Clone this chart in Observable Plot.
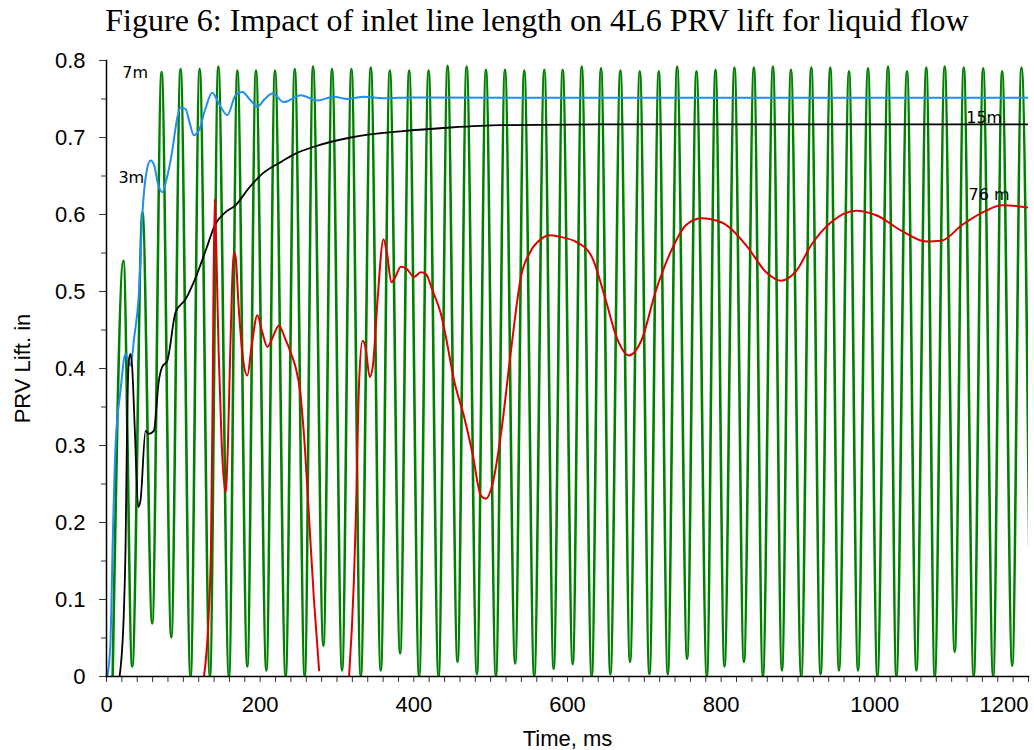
<!DOCTYPE html>
<html>
<head>
<meta charset="utf-8">
<script src="https://cdn.jsdelivr.net/npm/d3@7"></script>
<script src="https://cdn.jsdelivr.net/npm/@observablehq/plot@0.6"></script>
<style>
  html, body { margin: 0; padding: 0; background: #fff; }
  #title { width: 1034px; height: 40px; line-height: 40px; text-align: center; padding-left: 40px; box-sizing: border-box;
    font-family: "Liberation Serif", "Times New Roman", serif; font-size: 32px; color: #000; white-space: nowrap; }
</style>
</head>
<body>
<div id="title">Figure 6: Impact of inlet line length on 4L6 PRV lift for liquid flow</div>
<div id="chart"></div>
<script>
// ---- Data ----
// 7m (green): start, alternating peaks and troughs, end
const greenT = [8, 22, 33.5, 46.8, 59.5, 71.7, 84.3, 96.4, 109.4, 121.2, 134.6, 145.5, 159.4, 170.3, 183.3, 194.5, 208.1, 219.3, 233.2, 245, 258, 268.8, 282.3, 293.5, 306.6, 318.8, 330.9, 344, 357, 368.7, 382.2, 393.9, 406.9, 419.2, 432.2, 443.9, 456.9, 468.7, 482.1, 493.8, 506.8, 518.6, 531.9, 543.7, 556.7, 569.8, 582, 593.7, 606.8, 618.5, 631.5, 643.6, 655.8, 668.8, 681.4, 694.1, 706.6, 718.8, 730.5, 742.7, 755.7, 767.8, 781.4, 792.6, 804.3, 817.3, 829.6, 842.6, 854.3, 867.4, 879.1, 890.8, 904.2, 917.3, 929.4, 942, 953.3, 966.4, 978.1, 991.1, 1003.3, 1017.2, 1028, 1041.9, 1054.1, 1067, 1078, 1090.9, 1104, 1115.7, 1128.7, 1141, 1154, 1165.7, 1178.8, 1190.9, 1201];
const greenV = [0, 0.54, 0.013, 0.603, 0.069, 0.785, 0.051, 0.789, 0, 0.789, 0, 0.792, 0, 0.787, 0.013, 0.787, 0.008, 0.787, 0, 0.789, 0, 0.792, 0.04, 0.789, 0.008, 0.789, 0, 0.791, 0.008, 0.787, 0.03, 0.787, 0, 0.787, 0, 0.793, 0.019, 0.792, 0.003, 0.788, 0, 0.788, 0.017, 0.787, 0, 0.788, 0.01, 0.788, 0.016, 0.792, 0, 0.79, 0.003, 0.787, 0.019, 0.786, 0.003, 0.786, 0.003, 0.792, 0.023, 0.786, 0, 0.788, 0.013, 0.791, 0.019, 0.791, 0, 0.792, 0.008, 0.788, 0, 0.791, 0.003, 0.791, 0.008, 0.786, 0.008, 0.79, 0, 0.792, 0, 0.786, 0.008, 0.791, 0, 0.792, 0.032, 0.791, 0, 0.79, 0, 0.786, 0.014, 0.791, 0.165];

// 3m (blue)
const blueT = [1, 5, 8, 11.7, 18.2, 24.8, 28, 31.3, 36, 42, 47, 52, 57.3, 62, 67, 72.5, 78, 85.6, 92, 96.4, 102.9, 108, 113.7, 120.3, 128, 137.7, 146.3, 157.3, 168, 176.8, 186, 196.4, 206, 215.9, 231, 252.8, 274.5, 296.2, 313.6, 335.3, 360, 400, 600, 1200];
const blueV = [0, 0.04, 0.17, 0.298, 0.371, 0.419, 0.41, 0.404, 0.44, 0.495, 0.605, 0.655, 0.67, 0.664, 0.64, 0.629, 0.645, 0.683, 0.725, 0.739, 0.737, 0.72, 0.703, 0.709, 0.735, 0.758, 0.744, 0.729, 0.755, 0.759, 0.75, 0.74, 0.75, 0.757, 0.746, 0.755, 0.748, 0.753, 0.75, 0.753, 0.751, 0.752, 0.7515, 0.7515];

// 15m (black)
const blackT = [17, 22.5, 24.8, 27, 29, 31.3, 33.4, 36.9, 41.3, 44.3, 50.8, 55.1, 61.6, 68.1, 72.5, 79.1, 89.9, 102.9, 116, 129, 142, 155, 168, 185, 203, 226.7, 246, 270, 317.9, 383, 448, 513, 643, 1200];
const blackV = [0, 0.081, 0.168, 0.341, 0.41, 0.419, 0.402, 0.319, 0.22, 0.229, 0.319, 0.315, 0.319, 0.384, 0.402, 0.41, 0.473, 0.49, 0.518, 0.553, 0.588, 0.603, 0.612, 0.634, 0.653, 0.668, 0.679, 0.688, 0.7, 0.708, 0.713, 0.716, 0.717, 0.717];

// 76 m (red); null = curve below the axis (gap)
const redT = [126.8, 133, 136, 138, 140.7, 143, 146, 150, 155, 158, 161, 165.9, 168, 172, 178, 183.3, 189, 196.3, 202, 209.4, 216, 224.5, 232, 240, 246, 252, 258, 264, 270, 276.7, 296, 315.7, 322, 324.4, 328.7, 333.2, 337, 342.7, 347, 352.7, 360.5, 365, 370.9, 376, 383, 390, 400.4, 409.1, 415.6, 424.4, 435.2, 441.7, 452.5, 465.5, 476.5, 487.3, 493.8, 502.5, 513.4, 526.4, 539.4, 552.4, 565.5, 576.3, 590, 610, 630.6, 650, 663, 680, 696, 715, 735, 754, 774, 800, 832.6, 858.6, 878, 898, 917, 943, 976, 1002, 1034.5, 1067, 1087, 1113, 1145, 1165, 1200];
const redV = [0, 0.08, 0.17, 0.35, 0.62, 0.55, 0.42, 0.3, 0.239, 0.3, 0.42, 0.551, 0.545, 0.48, 0.41, 0.391, 0.43, 0.469, 0.45, 0.428, 0.44, 0.456, 0.44, 0.42, 0.402, 0.37, 0.3, 0.2, 0.1, 0.008, null, 0, 0.125, 0.203, 0.38, 0.436, 0.428, 0.389, 0.406, 0.488, 0.568, 0.55, 0.512, 0.519, 0.532, 0.53, 0.519, 0.525, 0.523, 0.501, 0.471, 0.441, 0.384, 0.337, 0.289, 0.235, 0.231, 0.25, 0.315, 0.423, 0.519, 0.553, 0.568, 0.573, 0.571, 0.565, 0.547, 0.488, 0.443, 0.417, 0.436, 0.501, 0.553, 0.586, 0.595, 0.59, 0.56, 0.525, 0.514, 0.527, 0.56, 0.59, 0.605, 0.599, 0.579, 0.565, 0.566, 0.586, 0.605, 0.612, 0.609];

// series labels drawn on the chart
const labelText = ["7m", "3m", "15m", "76 m"];
const labelT = [20.5, 15.5, 1119, 1122];
const labelV = [0.784, 0.648, 0.726, 0.626];

// axes
const xTicks = [0, 200, 400, 600, 800, 1000, 1200];
const xMinor = d3.range(0, 1201, 20);
const yTicks = [0, 0.1, 0.2, 0.3, 0.4, 0.5, 0.6, 0.7, 0.8];
const yTickLabels = ["0", "0.1", "0.2", "0.3", "0.4", "0.5", "0.6", "0.7", "0.8"];
const yMinor = d3.range(0, 0.801, 0.05);
const xTitle = "Time, ms";
const yTitle = "PRV Lift. in";

// ---- build tables ----
const toRows = (T, V) => T.map((t, i) => ({t, v: V[i]}));
const green = toRows(greenT, greenV);
const blue = toRows(blueT, blueV);
const black = toRows(blackT, blackV);
const red = toRows(redT, redV);
const labels = labelText.map((s, i) => ({s, t: labelT[i], v: labelV[i]}));
const xMain = xTicks.slice(0, -1);
const xLast = xTicks.slice(-1);

const chart = Plot.plot({
  width: 1034,
  height: 710,
  marginLeft: 106,
  marginRight: 6,
  marginTop: 20,
  marginBottom: 74,
  x: {domain: [0, 1200]},
  y: {domain: [0, 0.8]},
  style: {fontFamily: "'Liberation Sans', Arial, sans-serif", fontSize: "22px", color: "#000", background: "#fff"},
  marks: [
    Plot.axisY({ticks: yMinor, tickSize: 5, tickFormat: () => "", label: null, stroke: "#333"}),
    Plot.axisY({ticks: yTicks, tickSize: 7, tickPadding: 14, tickFormat: (d, i) => yTickLabels[i], label: null, fontSize: 22, stroke: "#333"}),
    Plot.axisX({ticks: xMinor, tickSize: 6, tickFormat: () => "", label: null, stroke: "#333"}),
    Plot.text(xMain, {x: d => d, frameAnchor: "bottom", lineAnchor: "middle", dy: 28, text: d => String(d), fontSize: 22}),
    Plot.text(xLast, {x: d => d, frameAnchor: "bottom", lineAnchor: "middle", dy: 28, text: d => String(d), fontSize: 22, textAnchor: "end"}),
    Plot.text([xTitle], {frameAnchor: "bottom", lineAnchor: "middle", textAnchor: "middle", dy: 62, fontSize: 22}),
    Plot.text([yTitle], {frameAnchor: "left", textAnchor: "middle", lineAnchor: "middle", dx: -84, rotate: -90, fontSize: 22}),
    Plot.line(green, {x: "t", y: "v", stroke: "#008000", strokeWidth: 2.6, curve: "monotone-x", clip: true}),
    Plot.line(blue, {x: "t", y: "v", stroke: "#1e8ff0", strokeWidth: 2, curve: "monotone-x", clip: true}),
    Plot.line(black, {x: "t", y: "v", stroke: "#000", strokeWidth: 1.8, curve: "monotone-x", clip: true}),
    Plot.line(red, {x: "t", y: "v", stroke: "#dd0000", strokeWidth: 2, curve: "monotone-x", clip: true}),
    Plot.frame({anchor: "left", stroke: "#000", strokeWidth: 1.5}),
    Plot.frame({anchor: "bottom", stroke: "#000", strokeWidth: 1.5}),
    Plot.text(labels, {x: "t", y: "v", text: "s", textAnchor: "start", fontSize: 16, fontFamily: "'DejaVu Sans', sans-serif", fill: "#000"})
  ]
});
document.getElementById("chart").appendChild(chart);
</script>
</body>
</html>
